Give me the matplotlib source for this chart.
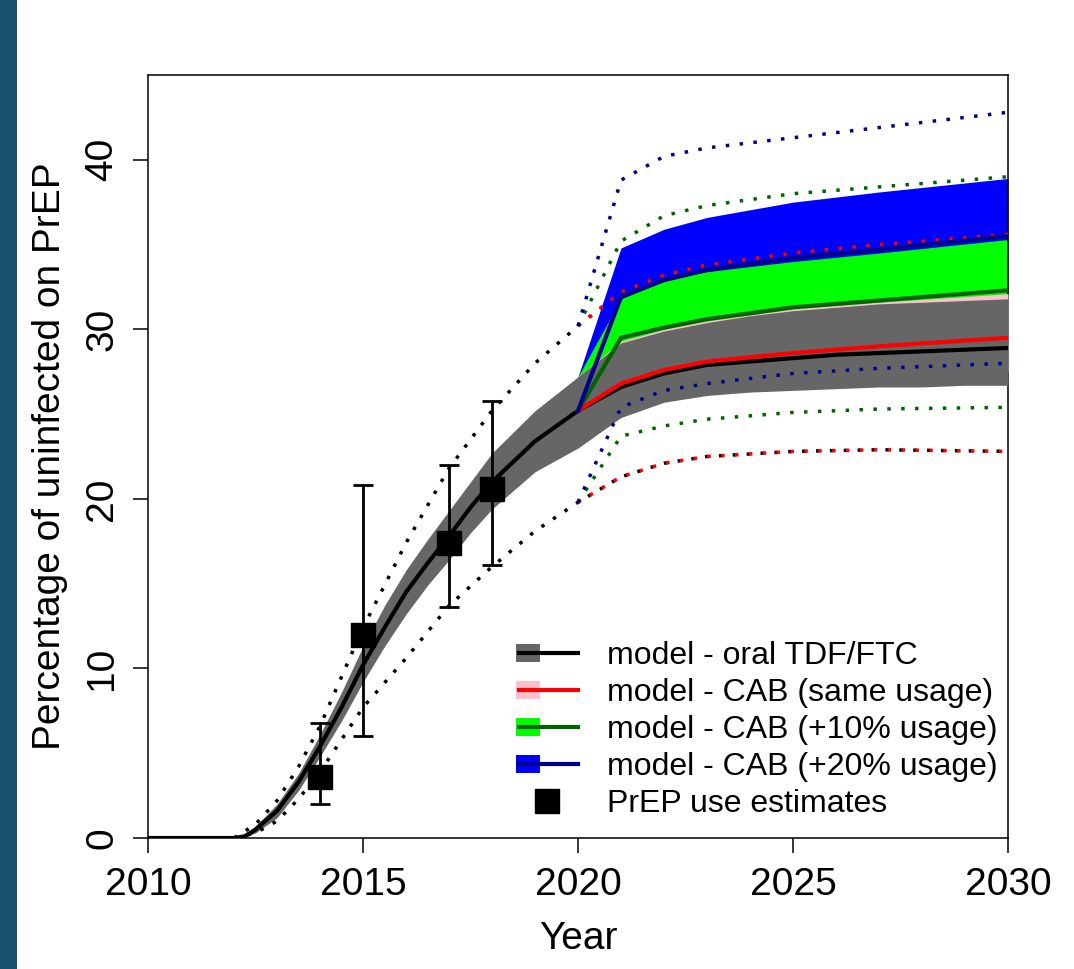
import matplotlib
matplotlib.use('Agg')
import matplotlib.pyplot as plt
from matplotlib.patches import Rectangle
from matplotlib.lines import Line2D

plt.rcParams['font.family'] = ['Liberation Sans', 'DejaVu Sans']

# oral TDF/FTC model
oral_years = [2010, 2011, 2012, 2012.25, 2012.5, 2013, 2013.5, 2014, 2014.5, 2015, 2015.5,
              2016, 2016.5, 2017, 2017.5, 2018, 2019, 2020, 2021, 2022, 2023, 2024, 2025,
              2026, 2027, 2028, 2029, 2030]
oral_mid = [0, 0, 0, 0.1, 0.5, 1.6, 3.3, 5.4, 7.7, 10.2, 12.4,
            14.5, 16.2, 17.8, 19.5, 21.0, 23.4, 25.2, 26.6, 27.4, 27.9, 28.1, 28.3,
            28.5, 28.6, 28.7, 28.8, 28.9]
oral_lo = [0, 0, 0, 0.05, 0.3, 1.2, 2.8, 4.8, 6.9, 9.2, 11.3,
           13.2, 14.9, 16.4, 18.0, 19.4, 21.6, 23.0, 24.8, 25.7, 26.1, 26.3, 26.4,
           26.5, 26.6, 26.6, 26.7, 26.7]
oral_hi = [0, 0, 0, 0.15, 0.7, 2.0, 3.8, 6.1, 8.6, 11.3, 13.7,
           15.8, 17.6, 19.3, 21.0, 22.7, 25.2, 27.2, 29.2, 29.9, 30.4, 30.8, 31.1,
           31.3, 31.5, 31.6, 31.7, 31.8]

# oral model range (dotted)
rng_years = [2012, 2012.5, 2013, 2013.5, 2014, 2015, 2016, 2017, 2018, 2019, 2020,
             2021, 2022, 2023, 2025, 2027, 2030]
rng_lo = [0, 0.3, 1.0, 2.3, 3.9, 7.7, 10.6, 13.7, 16.0, 18.1, 19.8,
          21.3, 22.1, 22.5, 22.8, 22.9, 22.8]
rng_hi = [0, 0.8, 2.2, 4.2, 6.6, 12.4, 17.4, 21.8, 25.2, 28.0, 30.2,
          32.2, 33.2, 33.8, 34.5, 35.0, 35.6]

# CAB scenarios from 2020
cab_years = [2020, 2021, 2022, 2023, 2025, 2027, 2030]

same_mid = [25.2, 26.8, 27.6, 28.1, 28.6, 29.0, 29.5]
same_lo = [23.0, 25.3, 26.2, 26.6, 27.0, 27.2, 27.5]
same_hi = [27.2, 29.3, 30.0, 30.5, 31.2, 31.6, 32.1]
same_rlo = [19.8, 21.3, 22.1, 22.5, 22.8, 22.9, 22.8]
same_rhi = [30.2, 32.2, 33.2, 33.8, 34.5, 35.0, 35.6]

p10_mid = [25.2, 29.5, 30.1, 30.6, 31.3, 31.7, 32.3]
p10_lo = [23.0, 26.5, 27.2, 27.6, 28.0, 28.4, 29.0]
p10_hi = [27.2, 31.8, 32.9, 33.4, 34.0, 34.5, 35.3]
p10_rlo = [19.8, 23.7, 24.3, 24.7, 25.1, 25.3, 25.4]
p10_rhi = [30.2, 35.2, 36.7, 37.3, 38.0, 38.4, 39.0]

p20_mid = [25.2, 31.9, 32.9, 33.5, 34.2, 34.7, 35.5]
p20_lo = [23.0, 28.5, 29.3, 29.8, 30.3, 30.7, 31.3]
p20_hi = [27.2, 34.8, 35.9, 36.6, 37.5, 38.1, 38.9]
p20_rlo = [19.8, 25.4, 26.4, 26.8, 27.4, 27.7, 28.0]
p20_rhi = [30.2, 38.8, 40.2, 40.7, 41.3, 41.9, 42.8]

# PrEP use estimates
est_years = [2014, 2015, 2017, 2018]
est_val = [3.6, 12.0, 17.4, 20.6]
est_lo = [2.0, 6.0, 13.6, 16.1]
est_hi = [6.8, 20.8, 22.0, 25.8]

labels = ['model - oral TDF/FTC', 'model - CAB (same usage)',
          'model - CAB (+10% usage)', 'model - CAB (+20% usage)', 'PrEP use estimates']


class BoxLine:
    def __init__(self, fc, lc):
        self.fc = fc
        self.lc = lc

    def legend_artist(self, legend, orig_handle, fontsize, handlebox):
        x0, y0 = handlebox.xdescent, handlebox.ydescent
        w, h = handlebox.width, handlebox.height
        bw, bh = 17, 13.5
        rect = Rectangle([x0, y0 + h / 2 - bh / 2], bw, bh, fc=self.fc, ec='none',
                         transform=handlebox.get_transform())
        line = Line2D([x0 + 2, x0 + w], [y0 + h / 2, y0 + h / 2], color=self.lc, lw=3,
                      transform=handlebox.get_transform())
        handlebox.add_artist(rect)
        handlebox.add_artist(line)
        return rect


fig = plt.figure(figsize=(10.74, 9.69), dpi=100)
fig.patches.append(Rectangle((0, 0), 17 / 1074, 1, transform=fig.transFigure,
                             fc='#1a526e', ec='none', zorder=0))
ax = fig.add_axes([148 / 1074, 131 / 969, 860 / 1074, 763 / 969])

dot = (0, (1, 3))
dot_off = (4, (1, 3))
dlw = 2.5

# bands
ax.fill_between(cab_years, p20_lo, p20_hi, color='#0000ff', lw=0, zorder=1)
ax.fill_between(cab_years, p10_lo, p10_hi, color='#00ff00', lw=0, zorder=2)
ax.fill_between(cab_years, same_lo, same_hi, color='#ffc0cb', lw=0, zorder=3)
ax.fill_between(oral_years, oral_lo, oral_hi, color='#666666', lw=0, zorder=4)

# range lines
ax.plot(rng_years, rng_hi, color='black', ls=dot, lw=dlw, zorder=5)
ax.plot(rng_years, rng_lo, color='black', ls=dot, lw=dlw, zorder=5)
ax.plot(cab_years, same_rhi, color='red', ls=dot_off, lw=dlw, zorder=5)
ax.plot(cab_years, same_rlo, color='red', ls=dot_off, lw=dlw, zorder=5)
ax.plot(cab_years, p10_rhi, color='#006400', ls=dot, lw=dlw, zorder=5)
ax.plot(cab_years, p10_rlo, color='#006400', ls=dot, lw=dlw, zorder=5)
ax.plot(cab_years, p20_rhi, color='#00008b', ls=dot, lw=dlw, zorder=5)
ax.plot(cab_years, p20_rlo, color='#00008b', ls=dot, lw=dlw, zorder=5)

# medians
ax.plot(oral_years, oral_mid, color='black', lw=3, zorder=6)
ax.plot(cab_years, same_mid, color='red', lw=3, zorder=7)
ax.plot(cab_years, p10_mid, color='#006400', lw=3, zorder=7)
ax.plot(cab_years, p20_mid, color='#00008b', lw=3, zorder=7)

# estimates
yerr = [[v - l for v, l in zip(est_val, est_lo)], [h - v for v, h in zip(est_val, est_hi)]]
ax.errorbar(est_years, est_val, yerr=yerr, fmt='s', color='black', ms=17,
            elinewidth=2, capsize=7.5, capthick=2, zorder=8)

ax.set_xlim(2010, 2030)
ax.set_ylim(0, 45)
ax.set_xticks([2010, 2015, 2020, 2025, 2030])
ax.set_yticks([0, 10, 20, 30, 40])
ax.tick_params(direction='out', length=11, width=1.1, labelsize=28)
ax.tick_params(axis='x', pad=10)
ax.tick_params(axis='y', pad=9)
plt.setp(ax.get_yticklabels(), rotation=90, va='center')
for s in ax.spines.values():
    s.set_linewidth(1.1)
ax.set_xlabel('Year', fontsize=28, labelpad=13)
ax.set_ylabel('Percentage of uninfected on PrEP', fontsize=28, labelpad=12)

handles = [Line2D([], []), Line2D([], []), Line2D([], []), Line2D([], []),
           Line2D([], [], marker='s', color='black', ls='none', ms=17)]
hmap = {handles[0]: BoxLine('#666666', 'black'),
        handles[1]: BoxLine('#ffc0cb', 'red'),
        handles[2]: BoxLine('#00ff00', '#006400'),
        handles[3]: BoxLine('#0000ff', '#00008b')}
ax.legend(handles, labels, handler_map=hmap, loc='upper left',
          bbox_to_anchor=(0.4093, 0.279), frameon=False, fontsize=23,
          handlelength=1.95, handletextpad=0.9, labelspacing=0.22, borderpad=0)

fig.savefig('out.png', dpi=100)
